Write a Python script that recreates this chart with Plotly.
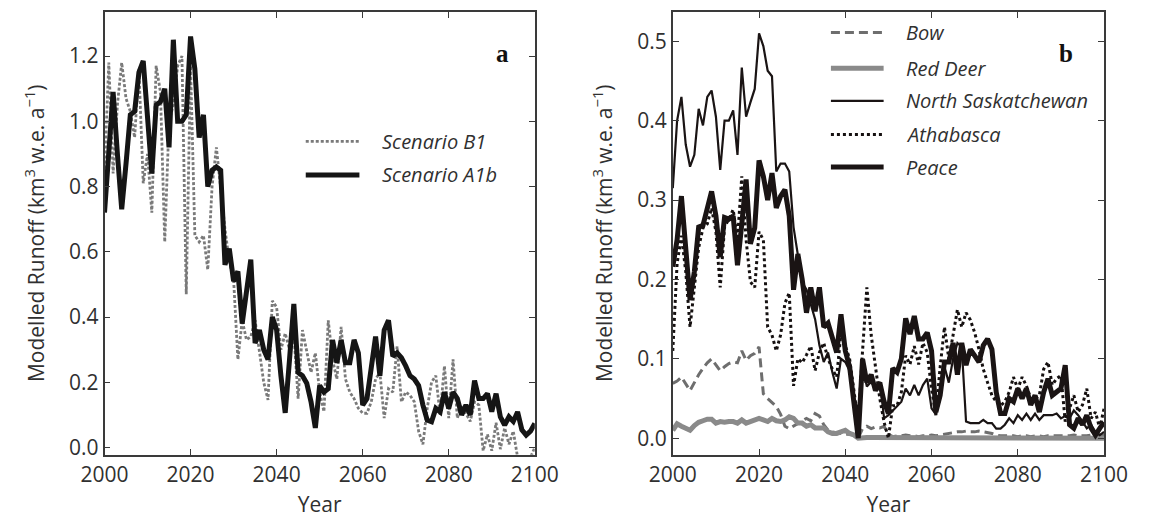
import plotly.graph_objects as go

W, H = 1152, 522
years = list(range(2000, 2101))

# Panel a: total modelled runoff under two emission scenarios (km3 w.e. per year)
scenario_b1 = [
    0.84, 1.18, 0.84, 1.05, 1.18, 1.07, 1.03, 0.95, 1.16, 0.81,
    0.90, 0.72, 1.17, 1.09, 0.63, 1.00, 1.05, 1.17, 1.20, 0.47,
    1.17, 0.65, 0.63, 0.65, 0.545, 0.80, 0.92, 0.79, 0.67, 0.57,
    0.515, 0.27, 0.39, 0.33, 0.34, 0.39, 0.30, 0.20, 0.146, 0.45,
    0.43, 0.30, 0.35, 0.30, 0.35, 0.15, 0.36, 0.30, 0.23, 0.29,
    0.17, 0.11, 0.39, 0.27, 0.21, 0.37, 0.21, 0.17, 0.15, 0.12,
    0.105, 0.105, 0.14, 0.21, 0.23, 0.09, 0.18, 0.17, 0.31, 0.14,
    0.17, 0.16, 0.14, 0.05, 0.01, 0.12, 0.20, 0.22, 0.10, 0.25,
    0.09, 0.27, 0.09, 0.13, 0.105, 0.08, 0.14, 0.13, -0.01, 0.04,
    -0.01, 0.076, -0.005, 0.06, 0.01, 0.05, -0.03, -0.03, -0.03, -0.03,
    0.0,
]
scenario_a1b = [
    0.72, 0.93, 1.09, 0.90, 0.73, 0.87, 1.02, 1.03, 1.15, 1.185,
    1.02, 0.84, 1.05, 1.06, 1.10, 0.92, 1.25, 1.00, 1.00, 1.02,
    1.26, 1.16, 0.95, 1.02, 0.80, 0.85, 0.86, 0.85, 0.56, 0.61,
    0.51, 0.54, 0.38, 0.47, 0.576, 0.32, 0.36, 0.30, 0.27, 0.40,
    0.36, 0.22, 0.106, 0.27, 0.44, 0.23, 0.22, 0.197, 0.14, 0.06,
    0.19, 0.17, 0.18, 0.33, 0.26, 0.33, 0.26, 0.26, 0.33, 0.29,
    0.13, 0.15, 0.25, 0.34, 0.22, 0.36, 0.39, 0.28, 0.29, 0.275,
    0.25, 0.22, 0.21, 0.19, 0.13, 0.084, 0.079, 0.12, 0.109, 0.17,
    0.12, 0.17, 0.15, 0.10, 0.13, 0.10, 0.205, 0.15, 0.15, 0.165,
    0.11, 0.165, 0.094, 0.069, 0.094, 0.08, 0.109, 0.054, 0.038, 0.05,
    0.074,
]

# Panel b: modelled runoff by river basin
bow = [
    0.069, 0.072, 0.077, 0.068, 0.060, 0.070, 0.080, 0.088, 0.095, 0.100,
    0.092, 0.085, 0.090, 0.094, 0.096, 0.095, 0.110, 0.098, 0.104, 0.107,
    0.115, 0.056, 0.050, 0.045, 0.040, 0.030, 0.015, 0.012, 0.015, 0.018,
    0.021, 0.025, 0.022, 0.031, 0.028, 0.017, 0.010, 0.008, 0.007, 0.006,
    0.005, 0.005, 0.004, 0.000, 0.012, 0.015, 0.012, 0.014, 0.013, 0.015,
    0.005, 0.002, 0.003, 0.003, 0.004, 0.003, 0.003, 0.002, 0.003, 0.003,
    0.004, 0.003, 0.004, 0.005, 0.006, 0.007, 0.008, 0.008, 0.009, 0.008,
    0.008, 0.009, 0.008, 0.007, 0.006, 0.004, 0.003, 0.003, 0.003, 0.003,
    0.002, 0.003, 0.003, 0.002, 0.003, 0.003, 0.002, 0.003, 0.003, 0.003,
    0.003, 0.003, 0.003, 0.004, 0.003, 0.003, 0.003, 0.004, 0.004, 0.004,
    0.004,
]
red_deer = [
    0.010, 0.018, 0.015, 0.012, 0.010, 0.016, 0.020, 0.022, 0.024, 0.024,
    0.019, 0.021, 0.020, 0.021, 0.021, 0.019, 0.023, 0.019, 0.021, 0.022,
    0.025, 0.023, 0.021, 0.025, 0.022, 0.021, 0.023, 0.027, 0.025, 0.019,
    0.019, 0.015, 0.017, 0.013, 0.013, 0.013, 0.008, 0.006, 0.006, 0.008,
    0.010, 0.006, 0.004, 0.000, 0.001, 0.001, 0.001, 0.001, 0.001, 0.001,
    0.001, 0.001, 0.001, 0.001, 0.001, 0.001, 0.000, 0.000, 0.000, 0.000,
    0.000, 0.000, 0.000, 0.000, 0.000, 0.000, 0.000, 0.000, 0.000, 0.000,
    0.000, 0.000, 0.000, 0.000, 0.000, 0.000, 0.000, 0.000, 0.000, 0.000,
    0.000, 0.000, 0.000, 0.000, 0.000, 0.000, 0.000, 0.000, 0.000, 0.000,
    0.000, 0.000, 0.000, 0.000, 0.000, 0.000, 0.000, 0.000, 0.000, 0.000,
    0.000,
]
north_saskatchewan = [
    0.315, 0.40, 0.43, 0.37, 0.342, 0.357, 0.415, 0.394, 0.43, 0.438,
    0.405, 0.338, 0.40, 0.40, 0.413, 0.357, 0.467, 0.405, 0.423, 0.44,
    0.51, 0.494, 0.463, 0.456, 0.336, 0.346, 0.346, 0.336, 0.266, 0.228,
    0.196, 0.1875, 0.17, 0.15, 0.117, 0.096, 0.108, 0.083, 0.0625, 0.10,
    0.096, 0.085, 0.05, 0.035, 0.092, 0.065, 0.071, 0.0625, 0.071, 0.025,
    0.029, 0.035, 0.04, 0.046, 0.0625, 0.054, 0.067, 0.054, 0.067, 0.075,
    0.0375, 0.03, 0.05, 0.09, 0.07, 0.10, 0.12, 0.115, 0.021, 0.019,
    0.019, 0.019, 0.023, 0.019, 0.019, 0.012, 0.012, 0.017, 0.025, 0.019,
    0.029, 0.023, 0.031, 0.023, 0.031, 0.023, 0.029, 0.029, 0.029, 0.031,
    0.025, 0.028, 0.025, 0.035, 0.029, 0.021, 0.0125, 0.017, 0.008, 0.004,
    0.008,
]
athabasca = [
    0.11, 0.22, 0.255, 0.21, 0.14, 0.19, 0.24, 0.265, 0.27, 0.29,
    0.26, 0.19, 0.266, 0.276, 0.288, 0.25, 0.33, 0.25, 0.197, 0.19,
    0.26, 0.25, 0.14, 0.13, 0.11, 0.13, 0.17, 0.183, 0.066, 0.10,
    0.095, 0.105, 0.116, 0.085, 0.108, 0.12, 0.10, 0.087, 0.077, 0.133,
    0.115, 0.10, 0.06, 0.02, 0.11, 0.19, 0.13, 0.09, 0.05, 0.02,
    0.0, 0.041, 0.041, 0.058, 0.104, 0.093, 0.116, 0.093, 0.12, 0.108,
    0.062, 0.029, 0.09, 0.14, 0.10, 0.13, 0.162, 0.14, 0.158, 0.149,
    0.133, 0.112, 0.087, 0.07, 0.054, 0.046, 0.041, 0.046, 0.058, 0.077,
    0.062, 0.077, 0.066, 0.05, 0.05, 0.054, 0.087, 0.096, 0.067, 0.075,
    0.079, 0.021, 0.0375, 0.054, 0.033, 0.042, 0.0625, 0.025, 0.033, 0.0125,
    0.0375,
]
peace = [
    0.216, 0.25, 0.305, 0.24, 0.174, 0.21, 0.266, 0.268, 0.29, 0.311,
    0.28, 0.228, 0.278, 0.276, 0.28, 0.218, 0.27, 0.326, 0.245, 0.265,
    0.35, 0.33, 0.30, 0.334, 0.29, 0.305, 0.313, 0.28, 0.187, 0.232,
    0.20, 0.158, 0.19, 0.16, 0.19, 0.14, 0.145, 0.124, 0.108, 0.156,
    0.11, 0.09, 0.05, 0.0, 0.10, 0.07, 0.08, 0.06, 0.07, 0.046,
    0.031, 0.088, 0.083, 0.10, 0.151, 0.131, 0.154, 0.125, 0.125, 0.133,
    0.11, 0.033, 0.054, 0.096, 0.096, 0.12, 0.08, 0.12, 0.092, 0.112,
    0.104, 0.096, 0.117, 0.125, 0.112, 0.058, 0.031, 0.031, 0.05, 0.046,
    0.0625, 0.05, 0.0625, 0.042, 0.054, 0.033, 0.058, 0.075, 0.054, 0.058,
    0.0625, 0.092, 0.017, 0.0125, 0.025, 0.017, 0.029, 0.0125, 0.004, 0.0125,
    0.02,
]

x_ticks = [2000, 2020, 2040, 2060, 2080, 2100]
y_ticks_a = [0.0, 0.2, 0.4, 0.6, 0.8, 1.0, 1.2]
y_ticks_b = [0.0, 0.1, 0.2, 0.3, 0.4, 0.5]

FONT = "Open Sans"
TXT = "#303030"
AX = "#3a3a3a"
FS = 21


def px(x, y):
    """Pixel position in the page -> paper coordinates."""
    return x / W, 1 - y / H


fig = go.Figure()

styles_a = [
    ("Scenario B1", scenario_b1, dict(color="#7a7a7a", width=2.8, dash="3px,2px")),
    ("Scenario A1b", scenario_a1b, dict(color="#151515", width=5)),
]
for name, vals, line in styles_a:
    fig.add_trace(go.Scatter(x=years, y=vals, mode="lines", name=name,
                             line=line, xaxis="x", yaxis="y",
                             showlegend=False))

styles_b = [
    ("Bow", bow, dict(color="#6e6e6e", width=3, dash="9px,5px")),
    ("Red Deer", red_deer, dict(color="#8a8a8a", width=5)),
    ("North Saskatchewan", north_saskatchewan, dict(color="#1a1414", width=2.2)),
    ("Athabasca", athabasca, dict(color="#151010", width=3, dash="3px,3px")),
    ("Peace", peace, dict(color="#1a1414", width=5)),
]
for name, vals, line in styles_b:
    fig.add_trace(go.Scatter(x=years, y=vals, mode="lines", name=name,
                             line=line, xaxis="x2", yaxis="y2",
                             showlegend=False))

common_x = dict(
    range=[2000, 2100], tickvals=x_ticks, ticks="inside", ticklen=6,
    tickwidth=1.3, tickcolor=AX, showline=True, linecolor=AX, linewidth=1.6,
    mirror="allticks", showgrid=False, zeroline=False,
    tickfont=dict(family=FONT, size=FS, color=TXT),
    title=dict(text="Year", font=dict(family=FONT, size=FS, color=TXT),
               standoff=11),
)
common_y = dict(
    ticks="inside", ticklen=6, tickwidth=1.3, tickcolor=AX, showline=True,
    linecolor=AX, linewidth=1.6, mirror="allticks", showgrid=False,
    zeroline=False, tickfont=dict(family=FONT, size=FS, color=TXT),
    title=dict(text="Modelled Runoff (km<sup>3</sup> w.e. a<sup>\u22121</sup>)",
               font=dict(family=FONT, size=FS, color=TXT), standoff=19),
)

y_dom = [1 - 460 / H, 1 - 12 / H]
fig.update_layout(
    width=W, height=H, margin=dict(l=0, r=0, t=0, b=0),
    paper_bgcolor="white", plot_bgcolor="white", showlegend=False,
    xaxis=dict(common_x, domain=[84 / W, 533 / W], anchor="y"),
    yaxis=dict(common_y, domain=y_dom, anchor="x",
               range=[-0.0221, 1.3355], tickvals=y_ticks_a,
               tickformat=".1f"),
    xaxis2=dict(common_x, domain=[677 / W, 1127 / W], anchor="y2"),
    yaxis2=dict(common_y, domain=y_dom, anchor="x2",
                range=[-0.0208, 0.5371], tickvals=y_ticks_b,
                tickformat=".1f"),
)

# Panel letters
for letter, (lx, ly) in (("a", (499, 38)), ("b", (1097, 38))):
    ax_, ay_ = px(lx, ly)
    fig.add_annotation(x=ax_, y=ay_, xref="paper", yref="paper",
                       text="<b>%s</b>" % letter, showarrow=False,
                       font=dict(family="Liberation Serif", size=25,
                                 color="#111111"))


# Hand-placed legend keys
def legend_row(x0, x1, y, text, line):
    p0 = px(x0, y)
    p1 = px(x1, y)
    fig.add_shape(type="line", xref="paper", yref="paper",
                  x0=p0[0], x1=p1[0], y0=p0[1], y1=p1[1], line=line)
    tx, ty = px(x1 + 21, y)
    fig.add_annotation(x=tx, y=ty, xref="paper", yref="paper", text=text,
                       showarrow=False, xanchor="left", yanchor="middle",
                       font=dict(family=FONT, size=20, color=TXT,
                                 style="italic"))


legend_row(294, 350, 143, "Scenario B1", styles_a[0][2])
legend_row(294, 350, 177, "Scenario A1b", styles_a[1][2])

rows_b = [33, 69, 102, 136, 169]
for (name, _, line), ry in zip(styles_b, rows_b):
    legend_row(842, 897, ry, name, line)

fig.write_html("out.html")
